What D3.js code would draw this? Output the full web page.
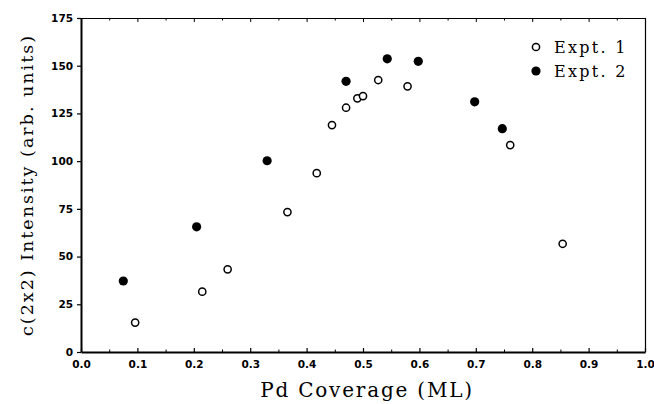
<!DOCTYPE html>
<html lang="en">
<head>
<meta charset="UTF-8">
<title>c(2x2) intensity vs Pd coverage</title>
<script src="https://d3js.org/d3.v7.min.js"></script>
<style>
  body { margin: 0; background: #fff; }
  .tick text { font-family: "DejaVu Sans", sans-serif; font-weight: bold; font-size: 10.5px; }
  .title { font-family: "DejaVu Serif", serif; fill: #000; }
</style>
</head>
<body>
<script>
// Expt. 1 (open circles)
var expt1X = [0.096, 0.215, 0.260, 0.366, 0.418, 0.445, 0.470, 0.490, 0.500, 0.527, 0.579, 0.761, 0.854]
var expt1Y = [15.4, 31.6, 43.3, 73.3, 93.7, 118.9, 128.0, 132.9, 134.1, 142.5, 139.2, 108.4, 56.7]
// Expt. 2 (filled circles)
var expt2X = [0.075, 0.205, 0.330, 0.470, 0.543, 0.598, 0.698, 0.747]
var expt2Y = [37.2, 65.6, 100.2, 141.8, 153.6, 152.3, 131.1, 117.0]

var xTicks = [0, 0.1, 0.2, 0.3, 0.4, 0.5, 0.6, 0.7, 0.8, 0.9, 1.0]
var xMinor = [0.05, 0.15, 0.25, 0.35, 0.45, 0.55, 0.65, 0.75, 0.85, 0.95]
var yTicks = [0, 25, 50, 75, 100, 125, 150, 175]
var legendNames = ["Expt. 1", "Expt. 2"]

var width = 654, height = 404
var m = {left: 81, right: 9, top: 18, bottom: 52}
var w = width - m.left - m.right
var h = height - m.top - m.bottom

var svg = d3.select("body").append("svg")
    .attr("width", width)
    .attr("height", height)
var g = svg.append("g")
    .attr("transform", "translate(" + m.left + "," + m.top + ")")

var x = d3.scaleLinear().domain([0, 1]).range([0, w])
var y = d3.scaleLinear().domain([0, 175]).range([h, 0])

// bottom axis, ticks point inward
var xAxis = g.append("g")
    .attr("transform", "translate(0," + h + ")")
    .call(d3.axisBottom(x).tickValues(xTicks).tickFormat(d3.format(".1f")).tickSizeInner(-4).tickSizeOuter(0).tickPadding(9))
xAxis.select(".domain").attr("stroke-width", 2)
xAxis.selectAll(".tick line").attr("stroke-width", 1.2)
g.append("g")
    .attr("transform", "translate(0," + h + ")")
    .call(d3.axisBottom(x).tickValues(xMinor).tickFormat("").tickSizeInner(-2.5).tickSizeOuter(0))
    .select(".domain").remove()

// top axis, inward ticks, no labels
var topAxis = g.append("g")
    .call(d3.axisTop(x).tickValues(xTicks).tickFormat("").tickSizeInner(-4).tickSizeOuter(0))
topAxis.select(".domain").attr("stroke-width", 1.2)
g.append("g")
    .call(d3.axisTop(x).tickValues(xMinor).tickFormat("").tickSizeInner(-2.5).tickSizeOuter(0))
    .select(".domain").remove()

// left axis, outward ticks
var yAxis = g.append("g")
    .call(d3.axisLeft(y).tickValues(yTicks).tickSizeInner(4).tickSizeOuter(0).tickPadding(4))
yAxis.select(".domain").attr("stroke-width", 2)
yAxis.selectAll(".tick line").attr("stroke-width", 1.2)

// right axis line only
g.append("g")
    .attr("transform", "translate(" + w + ",0)")
    .call(d3.axisRight(y).tickValues([]).tickSizeOuter(0))
    .select(".domain").attr("stroke-width", 1.2)

// points
g.append("g").selectAll("circle")
    .data(d3.zip(expt1X, expt1Y))
    .enter().append("circle")
    .attr("cx", d => x(d[0]))
    .attr("cy", d => y(d[1]))
    .attr("r", 3.6)
    .attr("fill", "#fff")
    .attr("stroke", "#000")
    .attr("stroke-width", 1.5)

g.append("g").selectAll("circle")
    .data(d3.zip(expt2X, expt2Y))
    .enter().append("circle")
    .attr("cx", d => x(d[0]))
    .attr("cy", d => y(d[1]))
    .attr("r", 4.6)
    .attr("fill", "#000")

// legend
var leg = svg.append("g").attr("transform", "translate(536,47)")
leg.selectAll("circle")
    .data(legendNames)
    .enter().append("circle")
    .attr("cx", 0)
    .attr("cy", (d, i) => i * 24)
    .attr("r", (d, i) => i == 0 ? 3.6 : 4.6)
    .attr("fill", (d, i) => i == 0 ? "#fff" : "#000")
    .attr("stroke", (d, i) => i == 0 ? "#000" : "none")
    .attr("stroke-width", 1.5)
leg.selectAll("text")
    .data(legendNames)
    .enter().append("text")
    .attr("class", "title")
    .attr("x", 18)
    .attr("y", (d, i) => i * 23.5 + 6)
    .style("font-size", "16px")
    .style("letter-spacing", "2.3px")
    .text(d => d)

// axis titles
svg.append("text")
    .attr("class", "title")
    .attr("x", m.left + w / 2 + 4)
    .attr("y", 397)
    .attr("text-anchor", "middle")
    .style("font-size", "20px")
    .style("letter-spacing", "1.8px")
    .text("Pd Coverage (ML)")

svg.append("text")
    .attr("class", "title")
    .attr("transform", "translate(33," + (m.top + h / 2) + ") rotate(-90)")
    .attr("text-anchor", "middle")
    .style("font-size", "17.5px")
    .style("letter-spacing", "2px")
    .text("c(2x2) Intensity (arb. units)")
</script>
</body>
</html>
